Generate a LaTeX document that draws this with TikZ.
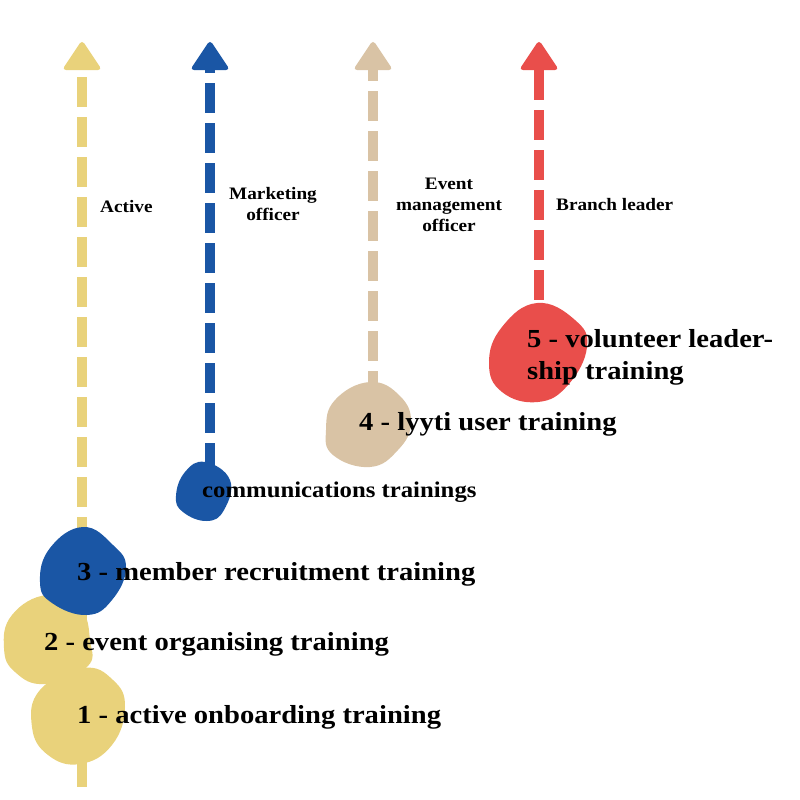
\documentclass[tikz,border=0pt]{standalone}
\usepackage{fontspec}
\setmainfont{Liberation Serif}[FakeStretch=1.1]
\definecolor{ycol}{HTML}{E9D27B}
\definecolor{bcol}{HTML}{1A56A5}
\definecolor{tcol}{HTML}{D9C3A5}
\definecolor{rcol}{HTML}{E94E4B}
\begin{document}
\begin{tikzpicture}[x=1pt,y=-1pt,
  lbl/.style={font=\bfseries\fontsize{26}{32}\selectfont, anchor=base west, inner sep=0pt},
  sm/.style={font=\bfseries\fontsize{17.5}{21}\selectfont, align=center, inner sep=0pt, anchor=base},
  trail/.style={line width=10pt, dash pattern=on 30pt off 10pt},
  blob/.style={smooth cycle, tension=0.75}
]
\useasboundingbox (0,0) rectangle (800,800);
% coordinates
\coordinate (yh) at (82,70);  \coordinate (yb) at (82,787);
\coordinate (bh) at (210,70); \coordinate (bb) at (210,470);
\coordinate (th) at (373,70); \coordinate (tb) at (373,385);
\coordinate (rh) at (539,70); \coordinate (rb) at (539,308);
% trails
\draw[trail, ycol, dash phase=33pt] (yh) -- (yb);
\draw[trail, bcol, dash phase=27pt] (bh) -- (bb);
\draw[trail, tcol, dash phase=19pt] (th) -- (tb);
\draw[trail, rcol, dash phase=0pt] (rh) -- (rb);
% heads
\fill[ycol, rounded corners=4pt] (62,70) -- (82,40) -- (102,70) -- cycle;
\fill[bcol, rounded corners=4pt] (190,70) -- (210,40) -- (230,70) -- cycle;
\fill[tcol, rounded corners=4pt] (353,70) -- (373,40) -- (393,70) -- cycle;
\fill[rcol, rounded corners=4pt] (519,70) -- (539,40) -- (559,70) -- cycle;
% blobs
\fill[ycol] plot[blob] coordinates {(83,668) (113,680) (125,707) (112,745) (80,764) (48,755) (32,727) (40,690)};
\fill[ycol] plot[blob] coordinates {(47,595) (80,608) (90,640) (87,667) (45,684) (15,672) (4,648) (12,615)};
\fill[bcol] plot[blob] coordinates {(83,527) (113,545) (126,568) (112,600) (87,615) (52,603) (40,582) (50,548)};
\fill[bcol] plot[blob] coordinates {(205,462) (230,480) (224,510) (207,521) (183,512) (176,496) (185,472)};
\fill[tcol] plot[blob] coordinates {(370,382) (400,396) (411,423) (398,450) (370,467) (333,455) (326,430) (335,400)};
\fill[rcol] plot[blob] coordinates {(537,303) (575,320) (587,347) (568,385) (538,402) (502,392) (489,363) (502,327)};
% labels
\node[lbl] (l1) at (77,723) {1 - active onboarding training};
\node[lbl] (l2) at (44,650) {2 - event organising training};
\node[lbl] (l3) at (77,580) {3 - member recruitment training};
\node[lbl, font=\bfseries\fontsize{22.5}{24}\selectfont] (lc) at (202,497) {communications trainings};
\node[lbl] (l4) at (359,430) {4 - lyyti user training};
\node[lbl] (l5) at (527,347) {5 - volunteer leader-};
\node[lbl] (l5b) at (527,379) {ship training};
\node[sm, anchor=base west] (ra) at (100,212) {Active};
\node[sm] (rm) at (273,220) {Marketing\\officer};
\node[sm] (re) at (449,231) {Event\\management\\officer};
\node[sm, anchor=base west] (rbl) at (556,210) {Branch leader};
\end{tikzpicture}
\end{document}
